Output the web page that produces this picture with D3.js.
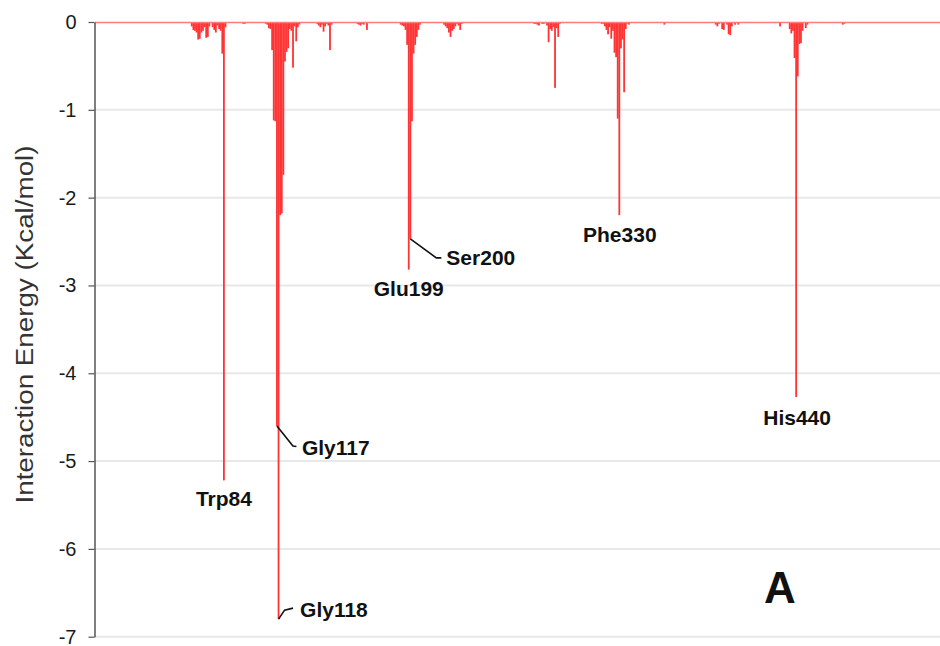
<!DOCTYPE html>
<html><head><meta charset="utf-8">
<script src="https://cdn.jsdelivr.net/npm/d3@7"></script>
<style>html,body{margin:0;padding:0;background:#fff;} svg{display:block;font-family:"Liberation Sans",Arial,Helvetica,sans-serif;}</style>
</head><body><svg id="chart" width="940" height="646"></svg>
<script>
// ---------- data ----------
const firstResidue = 4;
const lastResidue = 529;
// residues with a visible (non-zero) interaction energy; all others are 0
const peakResidues = [
  64,65,66,67,68,69,70,71,72,73,74,75,77,78,79,80,81,82,83,84,85,94,96,97,
  110,111,112,113,114,115,116,117,118,119,120,121,122,123,124,125,126,127,128,129,130,131,
  142,143,144,145,146,147,148,149,150,151,155,167,168,169,170,171,173,
  194,195,196,197,198,199,200,201,202,203,204,205,206,
  221,222,223,224,225,226,227,228,229,230,231,232,244,
  276,277,278,279,280,282,283,285,286,287,288,289,290,291,292,293,
  319,320,321,322,323,324,325,326,327,328,329,330,331,332,333,334,335,336,
  358,390,391,392,394,395,397,398,399,400,402,404,421,424,430,
  436,437,438,439,440,441,442,443,444,446,447,465,469,470
];
const peakEnergies = [
  -0.05,-0.09,-0.10,-0.12,-0.20,-0.19,-0.12,-0.10,-0.06,-0.18,-0.17,-0.05,-0.06,-0.09,-0.12,-0.04,-0.08,-0.10,-0.36,-5.22,-0.06,-0.01,-0.02,-0.02,
  -0.02,-0.03,-0.07,-0.08,-0.32,-1.12,-1.13,-4.60,-6.80,-2.20,-2.18,-1.74,-0.45,-0.34,-0.30,-0.08,-0.10,-0.52,-0.05,-0.22,-0.06,-0.03,
  -0.02,-0.04,-0.06,-0.03,-0.11,-0.05,-0.02,-0.04,-0.32,-0.03,-0.01,-0.02,-0.03,-0.04,-0.02,-0.03,-0.09,
  -0.03,-0.04,-0.05,-0.09,-0.26,-2.82,-2.47,-1.13,-0.36,-0.26,-0.17,-0.09,-0.03,
  -0.03,-0.05,-0.07,-0.12,-0.17,-0.10,-0.08,-0.05,-0.02,-0.04,-0.09,-0.02,-0.01,
  -0.01,-0.02,-0.02,-0.03,-0.04,-0.02,-0.02,-0.04,-0.23,-0.08,-0.10,-0.06,-0.75,-0.07,-0.17,-0.02,
  -0.02,-0.02,-0.05,-0.09,-0.14,-0.06,-0.19,-0.10,-0.35,-0.40,-1.10,-2.20,-0.30,-0.20,-0.80,-0.08,-0.02,-0.03,
  -0.03,-0.03,-0.05,-0.02,-0.08,-0.09,-0.03,-0.14,-0.15,-0.05,-0.03,-0.03,-0.01,-0.01,-0.05,
  -0.08,-0.13,-0.10,-0.41,-4.27,-0.62,-0.25,-0.24,-0.10,-0.07,-0.03,-0.01,-0.03,-0.02
];
const yTicks = [0, -1, -2, -3, -4, -5, -6, -7];
const labelNames = ["Trp84", "Gly117", "Gly118", "Glu199", "Ser200", "Phe330", "His440"];
const labelResidues = [84, 117, 118, 199, 200, 330, 440];
const yTitle = "Interaction Energy (Kcal/mol)";
const panelLetter = "A";

// ---------- build full series ----------
const residues = d3.range(firstResidue, lastResidue + 1);
const energyByResidue = new Map(peakResidues.map((r, i) => [r, peakEnergies[i]]));
const series = residues.map(r => ({ residue: r, energy: energyByResidue.get(r) ?? 0 }));

// ---------- layout ----------
const svg = d3.select("#chart");
const plotLeft = 94.5, plotRight = 940, plotTop = 22, plotBottom = 636.7;

const x = d3.scaleBand().domain(residues).range([plotLeft, plotRight]).paddingInner(0).paddingOuter(0);
const y = d3.scaleLinear().domain([-7, 0]).range([plotBottom, plotTop]);

// gridlines
svg.append("g").selectAll("line").data(yTicks.filter(t => t !== 0)).join("line")
  .attr("x1", plotLeft).attr("x2", plotRight)
  .attr("y1", d => y(d)).attr("y2", d => y(d))
  .attr("stroke", "#e8e8e8").attr("stroke-width", 2);

// bars
const barColor = "#ff3434";
svg.append("g").selectAll("rect").data(series.filter(d => d.energy !== 0)).join("rect")
  .attr("x", d => x(d.residue) - 0.1)
  .attr("width", x.bandwidth() + 0.2)
  .attr("y", y(0))
  .attr("height", d => y(d.energy) - y(0))
  .attr("fill", barColor);

// baseline (x axis at zero)
const xAxis = svg.append("g").attr("transform", `translate(0,${y(0)})`)
  .call(d3.axisBottom(x).tickValues([]).tickSizeOuter(0));
xAxis.select(".domain").attr("stroke", "#ff7b7b").attr("stroke-width", 1.6);

// y axis
const yAxis = svg.append("g").attr("transform", `translate(${plotLeft},0)`)
  .call(d3.axisLeft(y).tickValues(yTicks).tickFormat(d3.format("d")).tickSize(6).tickPadding(12).tickSizeOuter(0));
yAxis.select(".domain").attr("stroke", "#3a3a3a").attr("stroke-width", 1.3);
yAxis.selectAll(".tick line").attr("stroke", "#555").attr("stroke-width", 1.2);
yAxis.selectAll(".tick text")
  .attr("font-size", 20).attr("fill", "#1a1a1a")
  .attr("font-family", "'Liberation Sans', Arial, sans-serif")
  .text(d => d === 0 ? "0" : "-" + Math.abs(d));

// y title
svg.append("text")
  .attr("transform", `translate(33,${(145 + 504) / 2}) rotate(-90)`)
  .attr("text-anchor", "middle")
  .attr("font-size", 23).attr("fill", "#333")
  .attr("textLength", 358).attr("lengthAdjust", "spacingAndGlyphs")
  .text(yTitle);

// ---------- residue labels ----------
const labelLayout = {
  "Trp84":  { dx: 0,    dy: 26,  anchor: "middle", leader: null },
  "Gly117": { dx: 25,   dy: 29,  anchor: "start",  leader: [[0, 0], [16, 20], [19.5, 20.5]] },
  "Gly118": { dx: 21.5, dy: -2,  anchor: "start",  leader: [[0, 0], [6, -9], [14.5, -11]] },
  "Glu199": { dx: 0,    dy: 26,  anchor: "middle", leader: null },
  "Ser200": { dx: 36,   dy: 26,  anchor: "start",  leader: [[0, 0], [26, 19], [31, 19]] },
  "Phe330": { dx: 0.5,  dy: 26.7, anchor: "middle", leader: null },
  "His440": { dx: 1,    dy: 28,  anchor: "middle", leader: null }
};
const labels = labelNames.map((name, i) => {
  const r = labelResidues[i];
  return { name, px: x(r) + x.bandwidth() / 2, py: y(energyByResidue.get(r)), ...labelLayout[name] };
});
const lineGen = d3.line();
svg.append("g").selectAll("path").data(labels.filter(d => d.leader)).join("path")
  .attr("d", d => lineGen(d.leader.map(([a, b]) => [d.px + a, d.py + b])))
  .attr("fill", "none").attr("stroke", "#111").attr("stroke-width", 1.6);
svg.append("g").selectAll("text").data(labels).join("text")
  .attr("x", d => d.px + d.dx).attr("y", d => d.py + d.dy)
  .attr("text-anchor", d => d.anchor)
  .attr("font-size", 21).attr("font-weight", "bold").attr("fill", "#111")
  .text(d => d.name);

// panel letter
svg.append("text")
  .attr("x", 780).attr("y", 603).attr("text-anchor", "middle")
  .attr("font-size", 44).attr("font-weight", "bold").attr("fill", "#111")
  .text(panelLetter);
</script></body></html>
